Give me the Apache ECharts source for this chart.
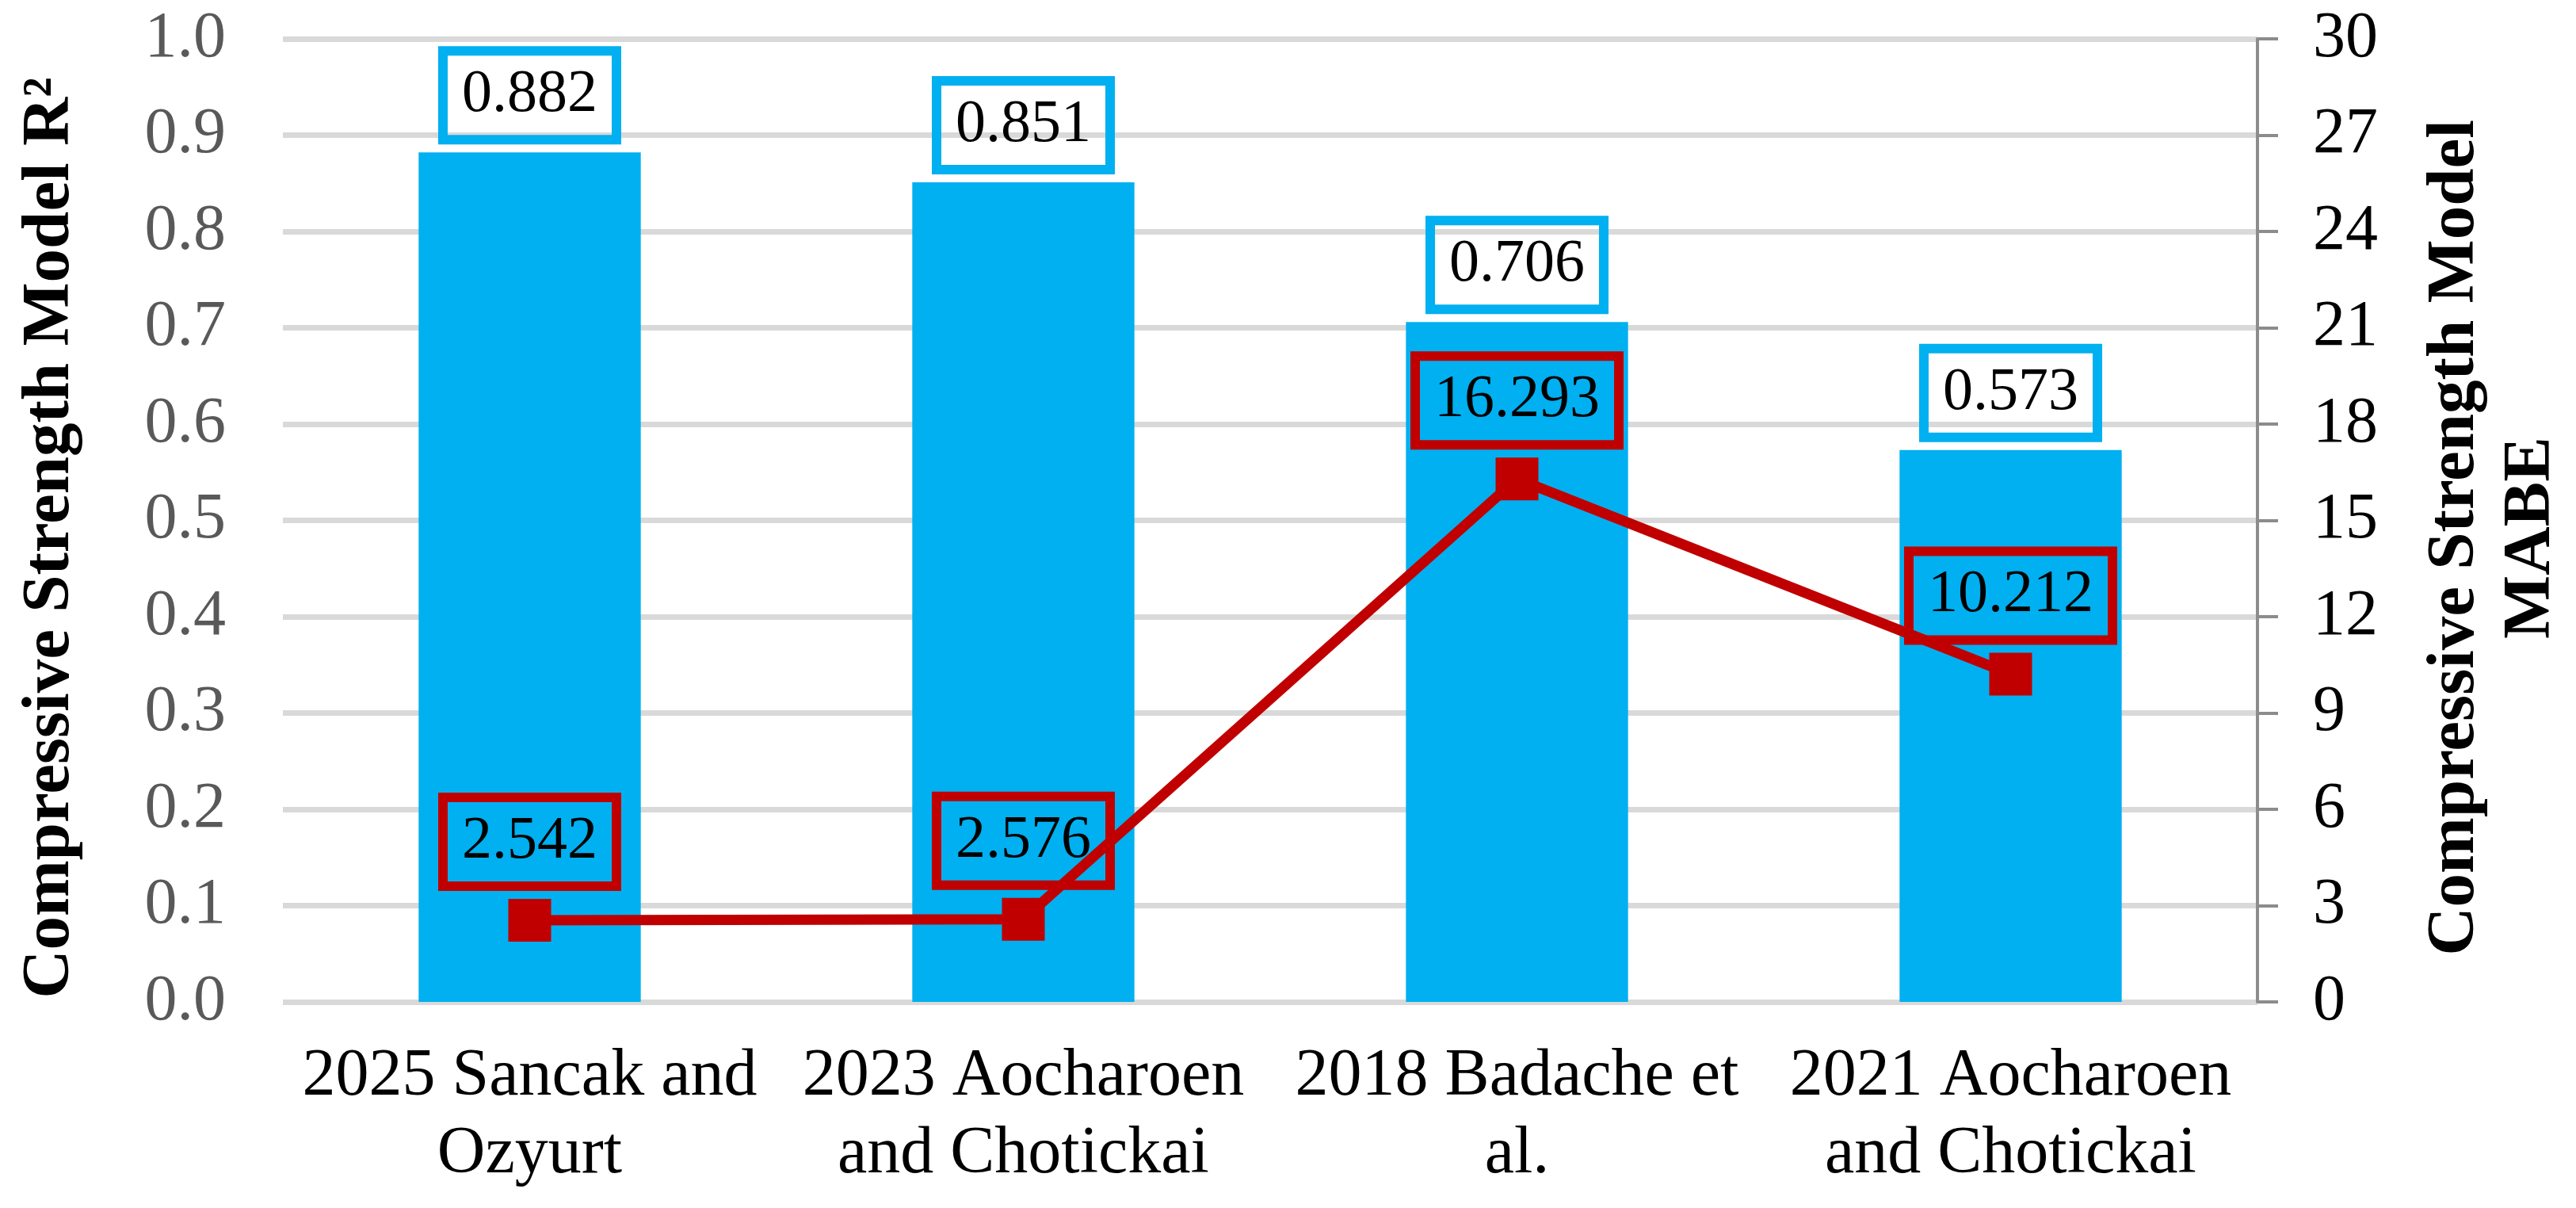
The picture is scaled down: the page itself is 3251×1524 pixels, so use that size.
<!DOCTYPE html>
<html>
<head>
<meta charset="utf-8">
<script src="https://cdn.jsdelivr.net/npm/echarts@6/dist/echarts.min.js"></script>
<style>
html,body{margin:0;padding:0;background:#fff;}
#chart{width:3251px;height:1524px;}
</style>
</head>
<body>
<div id="chart"></div>
<script>
var categories = [
  "2025 Sancak and\nOzyurt",
  "2023 Aocharoen\nand Chotickai",
  "2018 Badache et\nal.",
  "2021 Aocharoen\nand Chotickai"
];
var r2Values = [0.882, 0.851, 0.706, 0.573];
var mabeValues = [2.542, 2.576, 16.293, 10.212];
var leftTicks = { min: 0, max: 1, interval: 0.1 };
var rightTicks = { min: 0, max: 30, interval: 3 };

var FONT = "'Liberation Serif', 'DejaVu Serif', serif";
var chart = echarts.init(document.getElementById('chart'), null, { renderer: 'canvas' });

var option = {
  backgroundColor: '#ffffff',
  animation: false,
  grid: { left: 357, right: 401, top: 49, bottom: 260, containLabel: false },
  xAxis: {
    type: 'category',
    data: categories,
    axisLine: { show: false },
    axisTick: { show: false },
    axisLabel: {
      color: '#000000',
      fontFamily: FONT,
      fontSize: 84,
      lineHeight: 98,
      margin: 46,
      interval: 0
    }
  },
  yAxis: [
    {
      type: 'value',
      min: leftTicks.min,
      max: leftTicks.max,
      interval: leftTicks.interval,
      name: 'Compressive Strength Model R\u00B2',
      nameLocation: 'middle',
      nameRotate: 90,
      nameGap: 250,
      nameTextStyle: {
        color: '#000000',
        fontFamily: FONT,
        fontWeight: 'bold',
        fontSize: 85,
        padding: [0, 44, 0, 0]
      },
      axisLine: { show: false },
      axisTick: { show: false },
      axisLabel: {
        color: '#595959',
        fontFamily: FONT,
        fontSize: 82,
        margin: 72,
        formatter: function (v) { return v.toFixed(1); }
      },
      splitLine: { show: true, lineStyle: { color: '#D9D9D9', width: 7 } }
    },
    {
      type: 'value',
      position: 'right',
      min: rightTicks.min,
      max: rightTicks.max,
      interval: rightTicks.interval,
      name: 'Compressive Strength Model\nMABE',
      nameLocation: 'middle',
      nameRotate: 90,
      nameGap: 202,
      nameTextStyle: {
        color: '#000000',
        fontFamily: FONT,
        fontWeight: 'bold',
        fontSize: 85,
        lineHeight: 96,
        padding: [0, 44, 0, 0]
      },
      axisLine: { show: true, lineStyle: { color: '#8C8C8C', width: 4 } },
      axisTick: { show: true, inside: false, length: 26, lineStyle: { color: '#8C8C8C', width: 4 } },
      axisLabel: {
        color: '#000000',
        fontFamily: FONT,
        fontSize: 82,
        margin: 70
      },
      splitLine: { show: false }
    }
  ],
  series: [
    {
      type: 'bar',
      yAxisIndex: 0,
      data: r2Values,
      barWidth: '45%',
      itemStyle: { color: '#00B0F0' },
      label: {
        show: true,
        position: 'top',
        distance: 16,
        formatter: function (p) { return p.value.toFixed(3); },
        color: '#000000',
        fontFamily: FONT,
        fontSize: 76,
        lineHeight: 76,
        borderColor: '#00B0F0',
        borderWidth: 6,
        padding: [18, 24],
        backgroundColor: 'transparent'
      }
    },
    {
      type: 'line',
      yAxisIndex: 1,
      data: mabeValues,
      symbol: 'rect',
      symbolSize: 54,
      itemStyle: { color: '#C00000' },
      lineStyle: { color: '#C00000', width: 13 },
      label: {
        show: true,
        position: 'top',
        distance: 16,
        formatter: function (p) { return p.value.toFixed(3); },
        color: '#000000',
        fontFamily: FONT,
        fontSize: 76,
        lineHeight: 76,
        borderColor: '#C00000',
        borderWidth: 6,
        padding: [18, 24],
        backgroundColor: 'transparent'
      }
    }
  ]
};
chart.setOption(option);
</script>
</body>
</html>
